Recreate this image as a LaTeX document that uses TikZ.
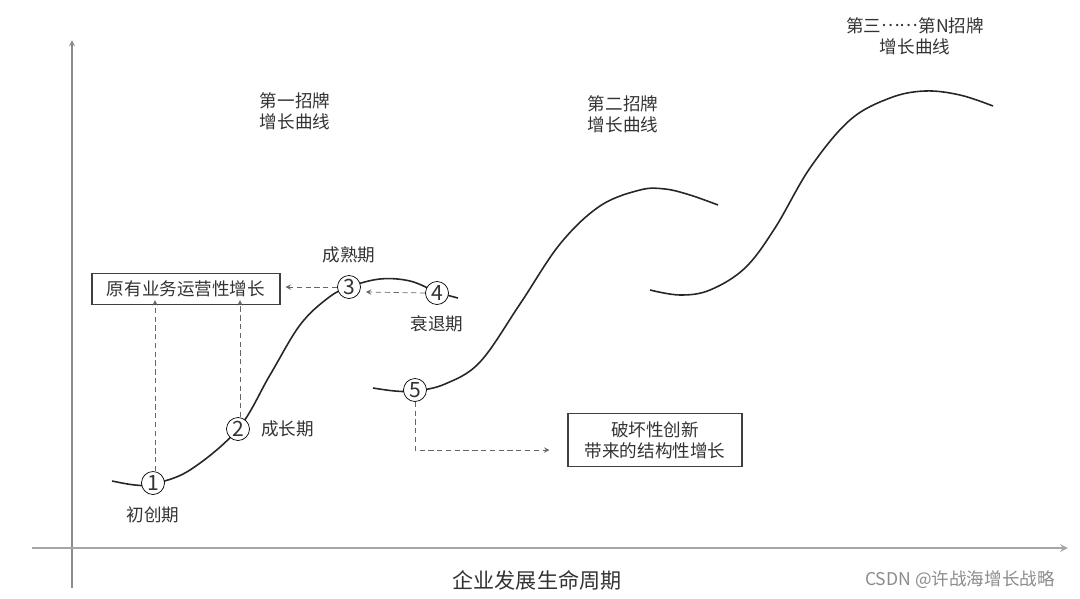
\documentclass[tikz,border=0pt]{standalone}
\usepackage{fontspec}
\setmainfont{Noto Sans CJK SC}
\usetikzlibrary{arrows,positioning,calc}

\begin{document}
\begin{tikzpicture}[x=0.02cm, y=-0.02cm, >=stealth, text=black!80,
        stage/.style={draw, circle, fill=white, inner sep=0pt, minimum size=0.46cm, font=\large},
        growbox/.style={draw, black!75, text=black!80, align=center, line width=0.6pt},
        curve/.style={line width=0.9pt, black!85},
        hint/.style={->, densely dashed, black!60, line width=0.4pt},
        axis/.style={->, black!45, line width=0.6pt}]
        \useasboundingbox (0,0) rectangle (1080,599);

        % Axes
        \coordinate (o) at (72,588);
        \coordinate (ytop) at (72,40);
        \coordinate (xl) at (32,548);
        \coordinate (xr) at (1068,548);
        \draw[axis] (o) -- (ytop);
        \draw[axis, line width=1pt, black!35] (xl) -- (xr);

        % Curves
        \draw[curve] plot[smooth, tension=0.6] coordinates {(112,481) (135,485) (153,484) (190,470) (238,429) (270,375) (300,325) (328,298) (349,287) (380,279) (410,281) (437,292) (458,298)};
        \draw[curve] plot[smooth, tension=0.6] coordinates {(373,388) (395,391) (415,391) (445,384) (480,362) (520,304) (560,244) (600,206) (640,190) (665,189) (690,195) (718,205)};
        \draw[curve] plot[smooth, tension=0.6] coordinates {(650,290) (680,295) (710,290) (745,268) (775,228) (810,168) (850,120) (890,98) (925,91) (960,95) (993,106)};

        % Nodes
        \node[stage] (s1) at (153,483) {1};
        \node[stage] (s2) at (238,429) {2};
        \node[stage] (s3) at (349,287) {3};
        \node[stage] (s4) at (437,293) {4};
        \node[stage] (s5) at (415,390) {5};

        \node[below=0.12cm of s1] (l1) {初创期};
        \node[right=0.1cm of s2] (l2) {成长期};
        \node[above=0.12cm of s3] (l3) {成熟期};
        \node[below=0.1cm of s4] (l4) {衰退期};

        \node[growbox, minimum width=3.76cm, minimum height=0.62cm] (old) at (186,289) {原有业务运营性增长};
        \node[growbox, minimum width=3.48cm, minimum height=1.06cm] (new) at (655,440) {破坏性创新\\带来的结构性增长};

        \node[align=center] (c1) at (295,111) {第一招牌\\增长曲线};
        \node[align=center] (c2) at (623,114) {第二招牌\\增长曲线};
        \node[align=center] (c3) at (915,36) {第三\raisebox{0.3em}{……}第N招牌\\增长曲线};

        \node[font=\large] (title) at (537,580) {企业发展生命周期};
        \node[text=black!45] (mark) at (960,580) {CSDN @许战海增长战略};

        % Edges
        \draw[hint] (s1.north -| 155,0) -- (155,0 |- old.south) ++(0,-5);
        \draw[hint] (s2.north) ++(2,0) -- ($(old.south -| s2.north)+(2,-5)$);
        \draw[hint] (s3.west) -- ($(old.east)+(5,-2)$);
        \draw[hint] (s4.west) -- ($(s3.east)+(5,5)$);
        \draw[hint] (s5.south) |- ($(new.west)+(-18,10)$);
    \end{tikzpicture}
\end{document}
